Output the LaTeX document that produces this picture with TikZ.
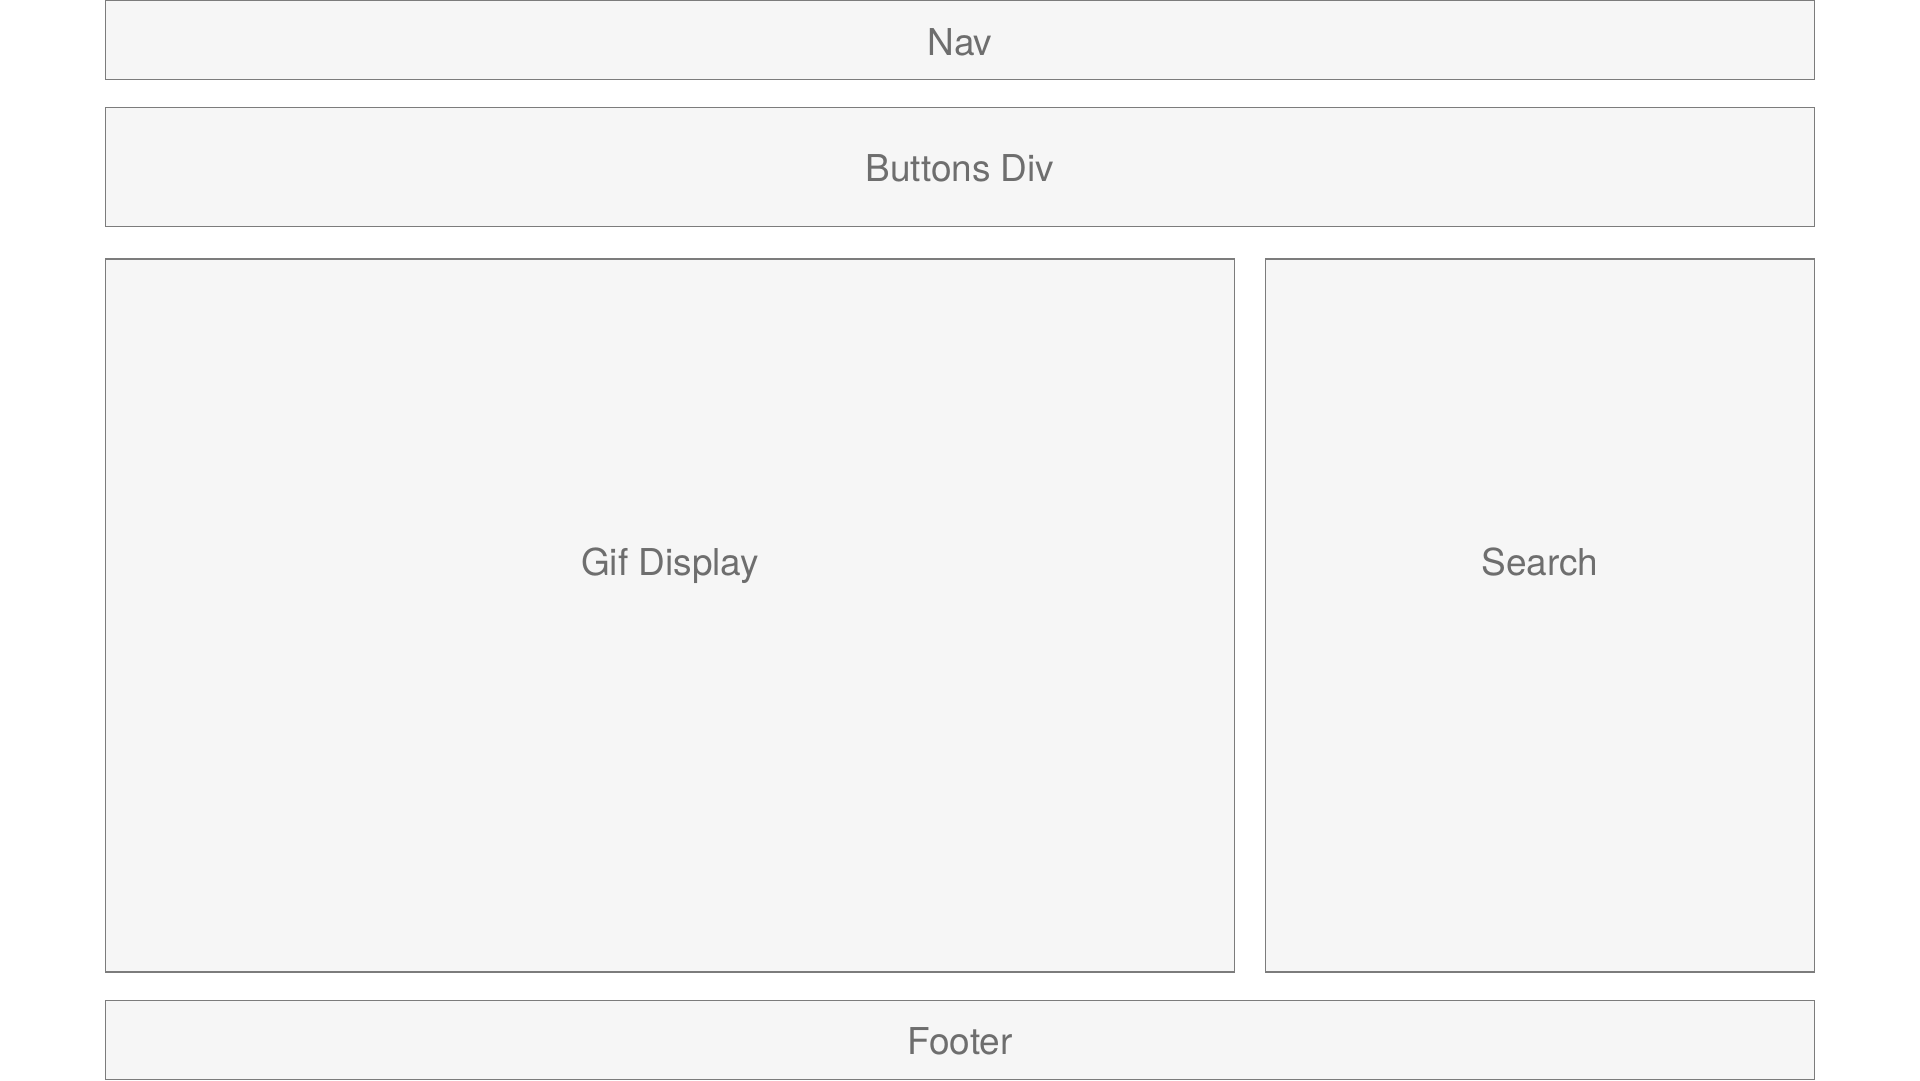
\documentclass[tikz,border=0pt]{standalone}
\usepackage{fontspec}
\setmainfont{TeX Gyre Heros}
\usepackage{tikz}
\usetikzlibrary{positioning}

\definecolor{boxfill}{HTML}{F6F6F6}
\definecolor{boxline}{HTML}{7C7C7C}
\definecolor{boxtext}{HTML}{6E6E6E}

\begin{document}
\begin{tikzpicture}[x=1pt,y=-1pt,
  part/.style={rectangle,draw=boxline,fill=boxfill,line width=1.4pt,inner sep=0pt},
  partlabel/.style={anchor=base,inner sep=0pt,text=boxtext,font=\fontsize{37}{44}\selectfont}]
\useasboundingbox (0,0) rectangle (1920,1080);
\node[part,minimum width=1709.4,minimum height=79.5] (nav) at (960,39.75) {};
\node[part,minimum width=1709.4,minimum height=119.2] (buttons) at (960,167.1) {};
\node[part,minimum width=1129.4,minimum height=713] (gif) at (670,615.5) {};
\node[part,minimum width=549.4,minimum height=713] (search) at (1540,615.5) {};
\node[part,minimum width=1709.4,minimum height=79.2] (footer) at (960,1039.9) {};
\node[partlabel] (navtext) at (960,55) {Nav};
\node[partlabel] (buttonstext) at (960,181) {Buttons Div};
\node[partlabel] (giftext) at (670,575) {Gif Display};
\node[partlabel] (searchtext) at (1540,575) {Search};
\node[partlabel] (footertext) at (960,1054) {Footer};
\end{tikzpicture}
\end{document}
